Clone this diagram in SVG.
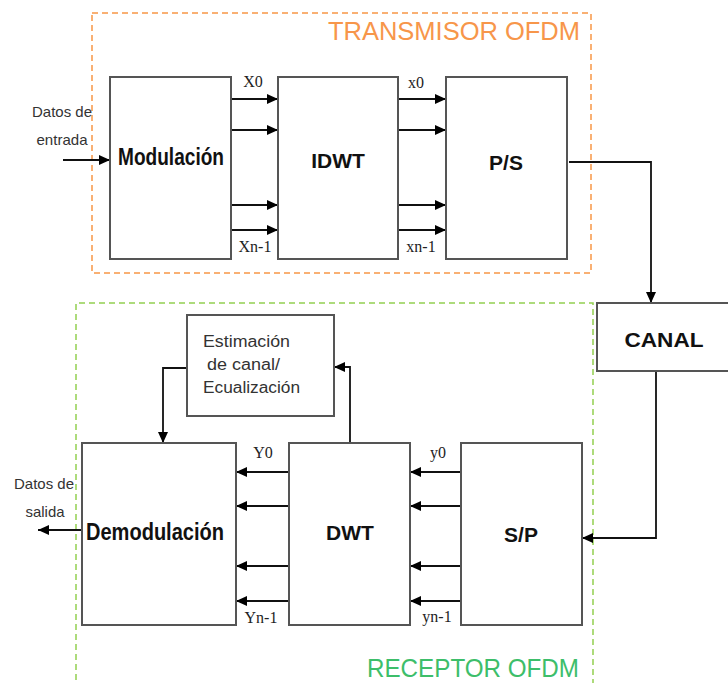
<svg xmlns="http://www.w3.org/2000/svg" width="728" height="683" viewBox="0 0 728 683">
<defs>
<marker id="ah" markerUnits="userSpaceOnUse" markerWidth="12" markerHeight="10" refX="11" refY="5" orient="auto">
<path d="M0,0 L11,5 L0,10 Z" fill="#000"/>
</marker>
<style>
.box{fill:#fff;stroke:#555;stroke-width:2}
.ln{fill:none;stroke:#111;stroke-width:1.8}
.ar{fill:none;stroke:#111;stroke-width:1.8;marker-end:url(#ah)}
.bt{font-family:"Liberation Sans",Arial,sans-serif;font-weight:bold;fill:#111;text-anchor:middle}
.st{font-family:"Liberation Serif","Times New Roman",serif;font-size:16px;fill:#222;text-anchor:middle}
.sm{font-family:"Liberation Sans",Arial,sans-serif;font-size:15px;fill:#333;text-anchor:middle}
</style>
</defs>
<rect width="728" height="683" fill="#fff"/>
<g id="transmisor">
<rect x="92" y="13" width="499" height="260" fill="none" stroke="#F79646" stroke-width="1.5" stroke-dasharray="6,4"/>
<text x="454" y="40" font-family="Liberation Sans,Arial,sans-serif" font-size="25" fill="#F7964A" text-anchor="middle" textLength="252" lengthAdjust="spacingAndGlyphs">TRANSMISOR OFDM</text>
</g>
<g id="receptor">
<path d="M76,690 L76,303 L593,303 L593,690" fill="none" stroke="#92D050" stroke-width="1.5" stroke-dasharray="6,4"/>
<text x="473" y="677" font-family="Liberation Sans,Arial,sans-serif" font-size="26" fill="#3DBE6A" text-anchor="middle" textLength="212" lengthAdjust="spacingAndGlyphs">RECEPTOR OFDM</text>
</g>
<g id="connectors">
<line class="ar" x1="63" y1="160" x2="110" y2="160"/>
<line class="ar" x1="231" y1="99" x2="278" y2="99"/>
<line class="ar" x1="231" y1="130" x2="278" y2="130"/>
<line class="ar" x1="231" y1="205" x2="278" y2="205"/>
<line class="ar" x1="231" y1="230" x2="278" y2="230"/>
<line class="ar" x1="398" y1="99" x2="446" y2="99"/>
<line class="ar" x1="398" y1="130" x2="446" y2="130"/>
<line class="ar" x1="398" y1="205" x2="446" y2="205"/>
<line class="ar" x1="398" y1="230" x2="446" y2="230"/>
<path class="ar" d="M569,162 L651,162 L651,303"/>
<path class="ar" d="M656,371 L656,538 L582,538"/>
<line class="ar" x1="461" y1="472" x2="410" y2="472"/>
<line class="ar" x1="461" y1="506" x2="410" y2="506"/>
<line class="ar" x1="461" y1="566" x2="410" y2="566"/>
<line class="ar" x1="461" y1="601" x2="410" y2="601"/>
<line class="ar" x1="289" y1="472" x2="236" y2="472"/>
<line class="ar" x1="289" y1="506" x2="236" y2="506"/>
<line class="ar" x1="289" y1="566" x2="236" y2="566"/>
<line class="ar" x1="289" y1="601" x2="236" y2="601"/>
<line class="ar" x1="82" y1="530" x2="38" y2="530"/>
<path class="ar" d="M187,368 L163,368 L163,443"/>
<path class="ar" d="M350,443 L350,367 L334,367"/>
</g>
<g id="in-label">
<text class="sm" x="62" y="117" textLength="60" lengthAdjust="spacingAndGlyphs">Datos de</text>
<text class="sm" x="62" y="145" textLength="51" lengthAdjust="spacingAndGlyphs">entrada</text>
</g>
<g id="modulacion">
<rect class="box" x="110" y="77" width="121" height="182"/>
<text class="bt" x="171" y="165" font-size="23" textLength="106" lengthAdjust="spacingAndGlyphs">Modulación</text>
</g>
<g id="idwt">
<rect class="box" x="278" y="77" width="120" height="182"/>
<text class="bt" x="338" y="168" font-size="21">IDWT</text>
</g>
<g id="ps">
<rect class="box" x="446" y="77" width="121" height="182"/>
<text class="bt" x="506" y="170" font-size="21">P/S</text>
</g>
<g id="tx-labels">
<text class="st" x="253" y="87">X0</text>
<text class="st" x="255" y="252">Xn-1</text>
<text class="st" x="416" y="88">x0</text>
<text class="st" x="421" y="252">xn-1</text>
</g>
<g id="canal">
<rect class="box" x="597" y="303" width="140" height="68"/>
<text class="bt" x="664" y="347" font-size="21" textLength="79" lengthAdjust="spacingAndGlyphs">CANAL</text>
</g>
<g id="estimacion">
<rect class="box" x="187" y="315" width="147" height="101"/>
<g font-family="Liberation Sans,Arial,sans-serif" font-size="16" fill="#333">
<text x="203" y="347" textLength="87" lengthAdjust="spacingAndGlyphs">Estimación</text>
<text x="207" y="370" textLength="73" lengthAdjust="spacingAndGlyphs">de canal/</text>
<text x="203" y="393" textLength="97" lengthAdjust="spacingAndGlyphs">Ecualización</text>
</g>
</g>
<g id="demodulacion">
<rect class="box" x="82" y="443" width="154" height="182"/>
<text class="bt" x="155" y="540" font-size="23" textLength="138" lengthAdjust="spacingAndGlyphs">Demodulación</text>
</g>
<g id="dwt">
<rect class="box" x="289" y="443" width="121" height="182"/>
<text class="bt" x="350" y="540" font-size="21">DWT</text>
</g>
<g id="sp">
<rect class="box" x="461" y="443" width="121" height="182"/>
<text class="bt" x="521" y="542" font-size="21">S/P</text>
</g>
<g id="rx-labels">
<text class="st" x="263" y="458">Y0</text>
<text class="st" x="261" y="623">Yn-1</text>
<text class="st" x="438" y="458">y0</text>
<text class="st" x="437" y="622">yn-1</text>
</g>
<g id="out-label">
<text class="sm" x="44" y="489" textLength="60" lengthAdjust="spacingAndGlyphs">Datos de</text>
<text class="sm" x="45" y="517" textLength="39" lengthAdjust="spacingAndGlyphs">salida</text>
</g>
</svg>
